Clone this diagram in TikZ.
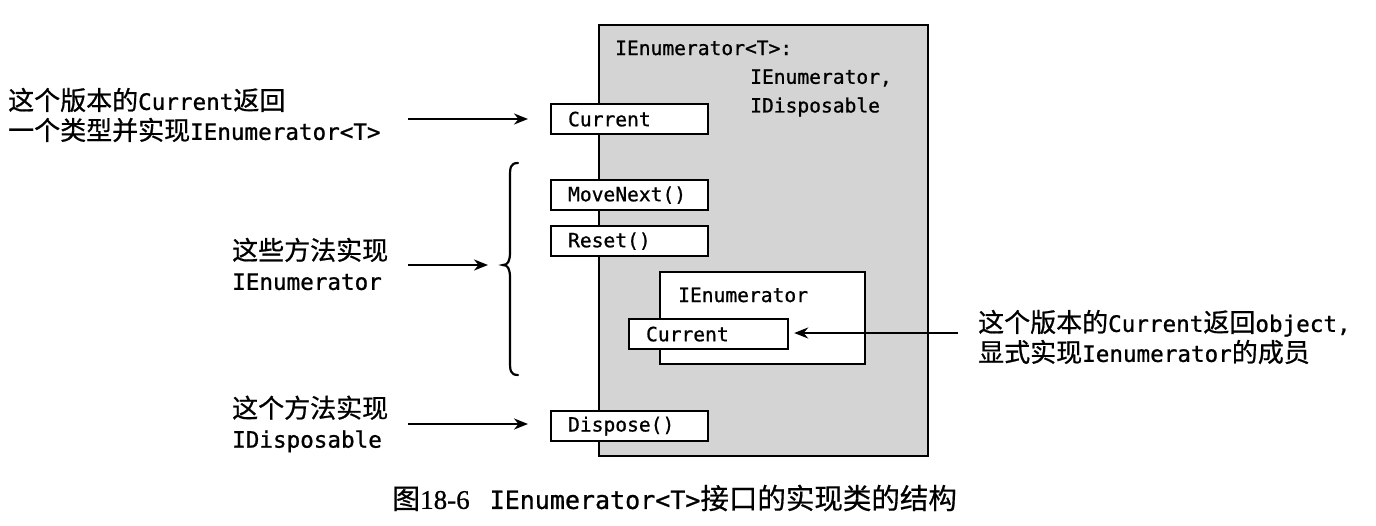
\documentclass[tikz,border=0pt]{standalone}
\usepackage{fontspec}
\setmonofont{DejaVu Sans Mono}[FakeBold=0.9]
\newfontfamily\cjk{Noto Sans CJK SC}[Scale=1.15,FakeBold=0.7]
\newfontfamily\capcjk{Noto Sans CJK SC}[FakeBold=0.6]
\newfontfamily\capserif{Liberation Serif}[FakeBold=0.6]
\usetikzlibrary{arrows.meta}
\newcommand\zh[1]{{\cjk #1}}
\tikzset{
  membox/.style={draw=black, line width=2.2pt, fill=white, minimum height=30pt,
    inner xsep=17pt, inner ysep=0pt, text width=123pt, align=left,
    font=\ttfamily\fontsize{19.6}{24}\selectfont, anchor=north west},
  code/.style={inner sep=0pt, font=\ttfamily\fontsize{19.6}{24}\selectfont, anchor=west},
  lab/.style={inner sep=0pt, align=left, anchor=west,
    font=\ttfamily\fontsize{22.6}{30}\selectfont},
  arr/.style={line width=2.2pt, -{Stealth[length=14pt,width=11pt]}},
}
\begin{document}
\begin{tikzpicture}[x=1pt,y=-1pt]
\fill[white] (0,0) rectangle (1376,525);
\useasboundingbox (0,0) rectangle (1376,525);

% class box
\node[draw=black, line width=2.4pt, fill=black!17, minimum width=329pt, minimum height=431pt,
  inner sep=0pt, anchor=north west] (cls) at (598,24) {};
\node[code] (t1) at (615,48) {IEnumerator<T>:};
\node[code] (t2) at (750,78) {IEnumerator,};
\node[code] (t3) at (750,107) {IDisposable};

% members
\node[membox] (cur) at (550,103) {Current};
\node[membox] (mn) at (550,179) {MoveNext()};
\node[membox] (rs) at (550,225) {Reset()};
\node[membox] (dsp) at (550,410) {Dispose()};

% inner explicit interface box
\node[draw=black, line width=2.2pt, fill=white, minimum width=205pt, minimum height=92pt,
  inner sep=0pt, anchor=north west] (ie) at (659,271) {};
\node[code] (ielbl) at (678,295) {IEnumerator};
\node[membox, text width=125pt] (icur) at (628,318) {Current};

% brace
\coordinate (btip) at (503,265);
\draw[line width=2.2pt, line cap=round] (518,163) .. controls (510,163) and (510,168) .. (510,178)
  -- (510,252) .. controls (510,261) and (508,265) .. (btip)
  .. controls (508,265) and (510,269) .. (510,278)
  -- (510,360) .. controls (510,370) and (510,375) .. (518,375);

% labels
\node[lab] (l1) at (8,115) {\zh{这个版本的}Current\zh{返回}\\\zh{一个类型并实现}IEnumerator<T>};
\node[lab] (l2) at (232,264) {\zh{这些方法实现}\\IEnumerator};
\node[lab] (l3) at (232,424) {\zh{这个方法实现}\\IDisposable};
\node[lab] (l4) at (978,337) {\zh{这个版本的}Current\zh{返回}object,\\\zh{显式实现}Ienumerator\zh{的成员}};

% arrows
\coordinate (a1) at (408,119);
\coordinate (a2) at (408,265);
\coordinate (a3) at (408,424);
\coordinate (a4) at (958,333);
\draw[arr, shorten >=22pt] (a1) -- (cur.west |- a1);
\draw[arr, shorten >=15pt] (a2) -- (btip);
\draw[arr, shorten >=22pt] (a3) -- (dsp.west |- a3);
\draw[arr, shorten >=5pt] (a4) -- (icur.east |- a4);

% caption
\node[inner sep=0pt, anchor=west] (cap) at (392,498)
  {{\capcjk\fontsize{28}{32}\selectfont 图}{\capserif\fontsize{27}{32}\selectfont 18-6}\hspace{20pt}{\ttfamily\fontsize{25}{32}\selectfont IEnumerator<T>}{\capcjk\fontsize{28.5}{32}\selectfont 接口的实现类的结构}};
\end{tikzpicture}
\end{document}
